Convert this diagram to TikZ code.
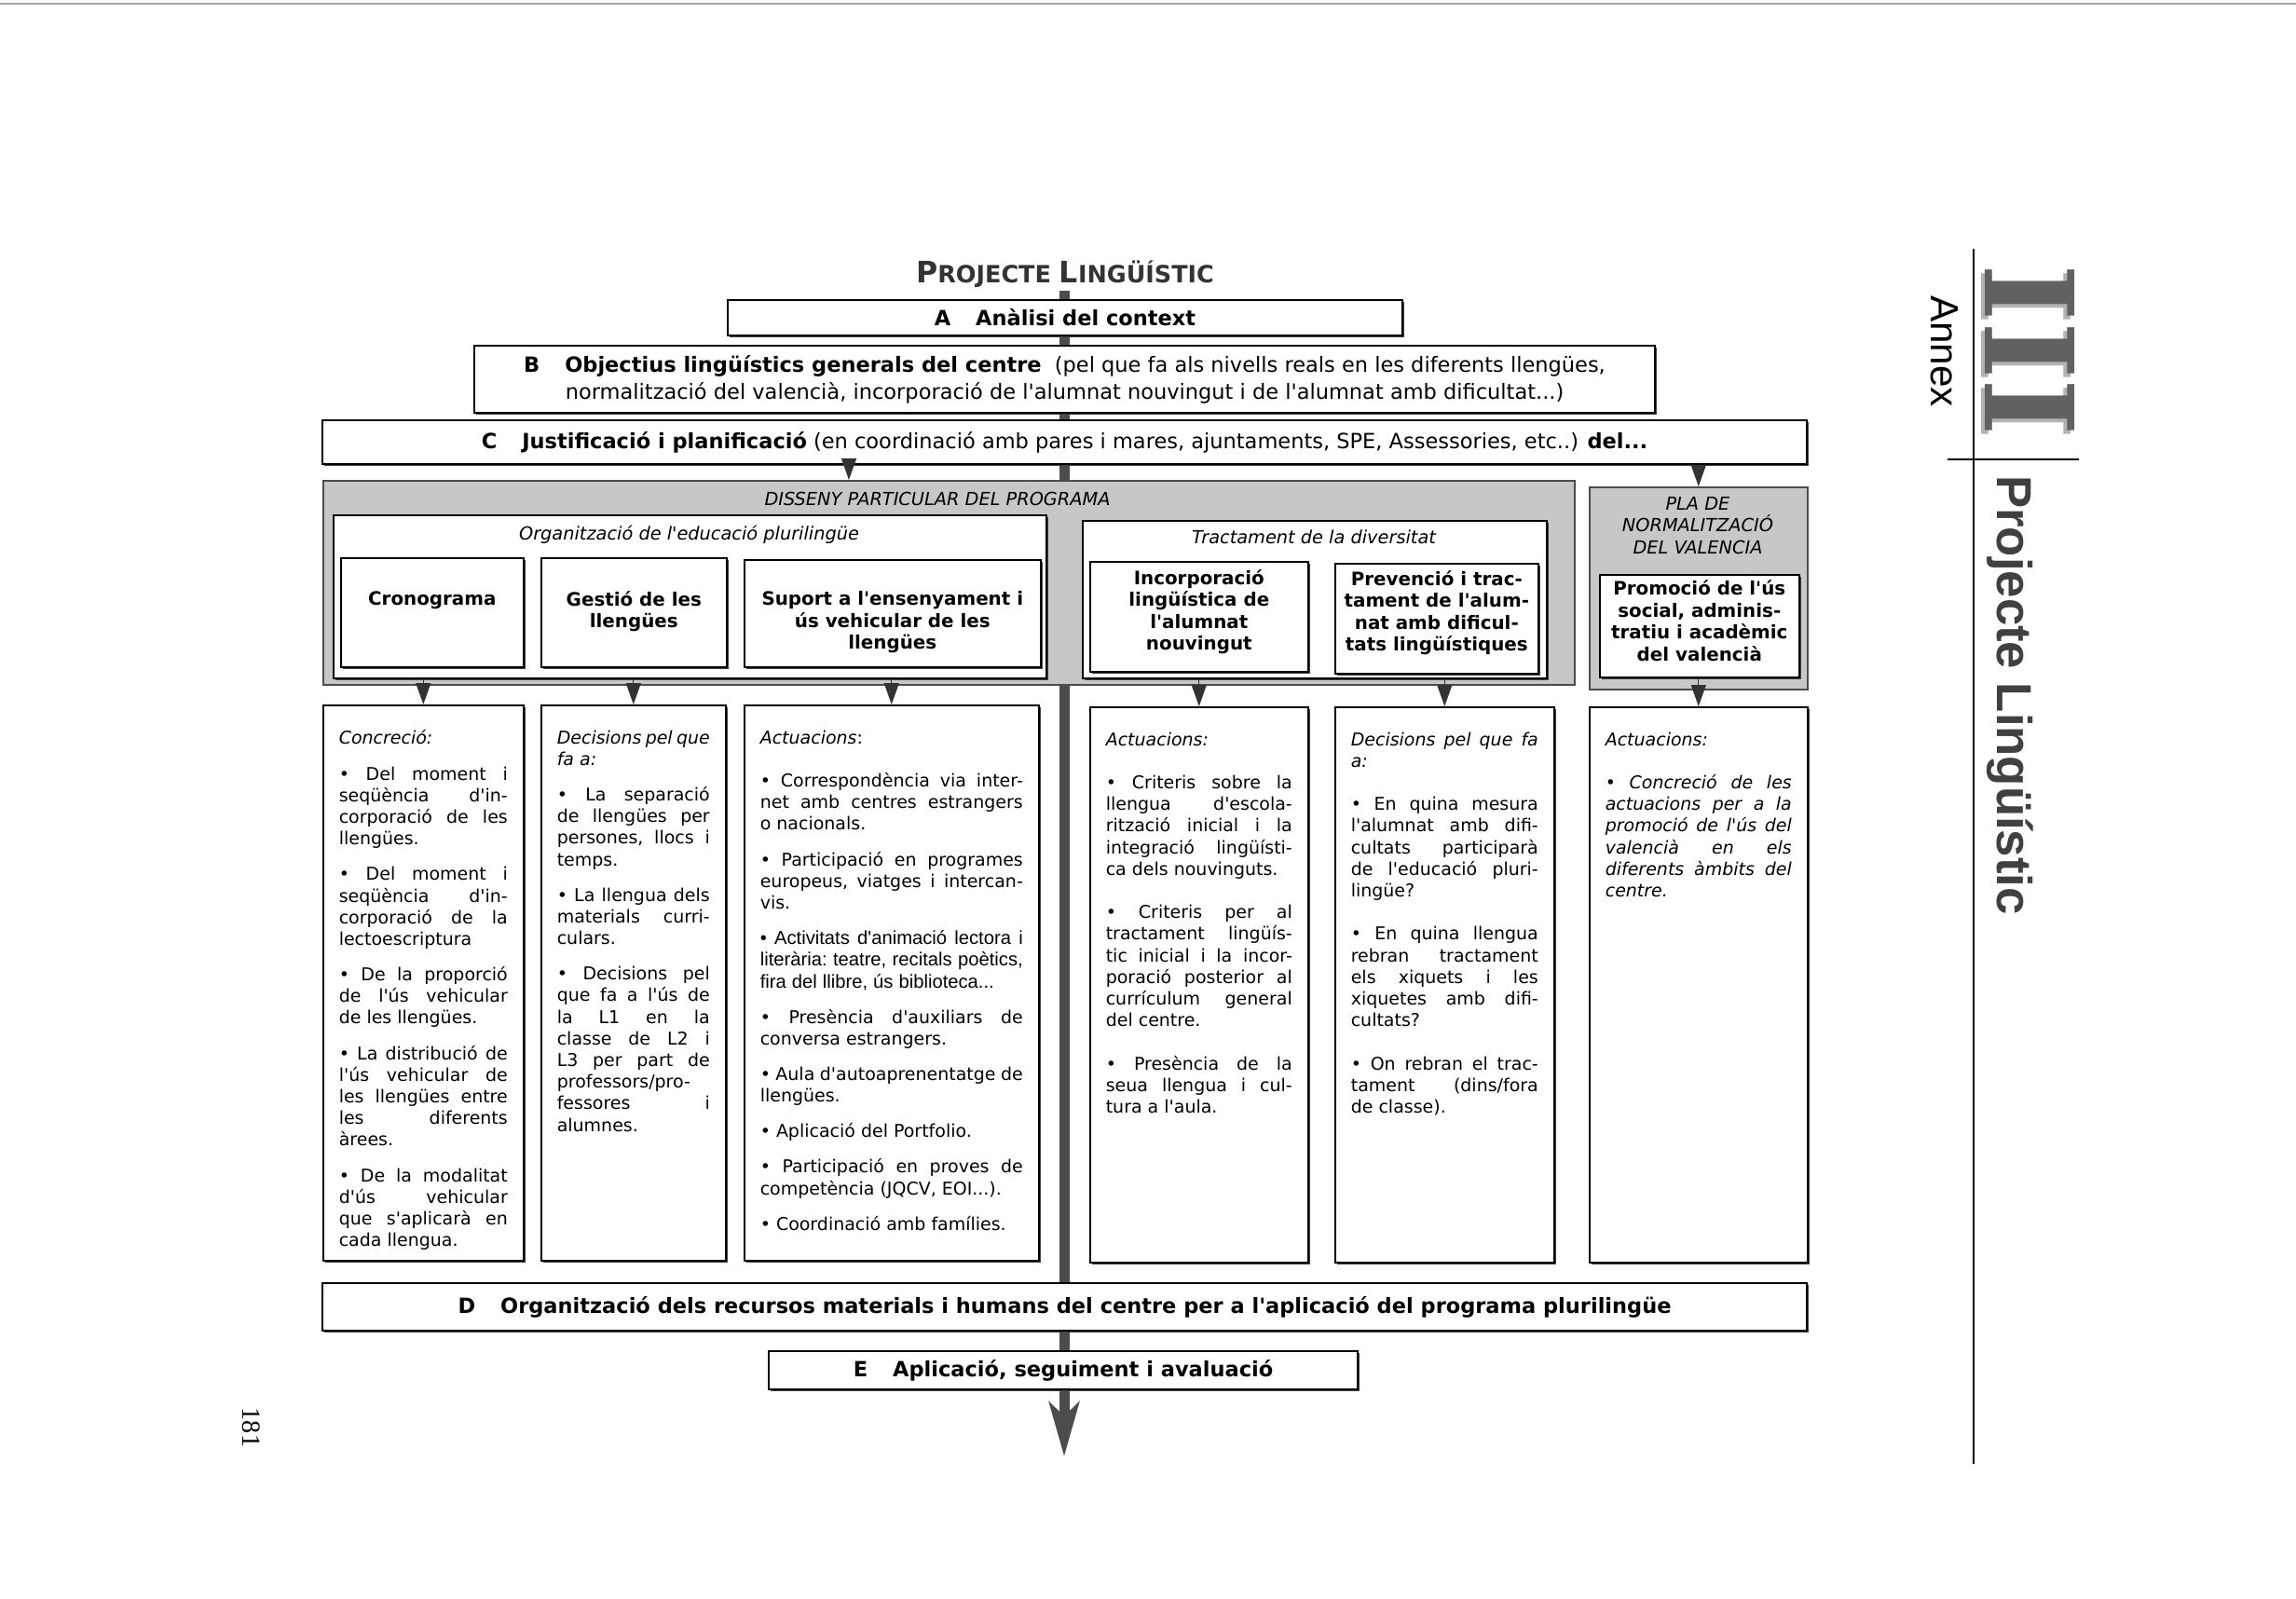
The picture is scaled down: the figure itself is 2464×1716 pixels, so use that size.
\documentclass[tikz,border=0pt]{standalone}
\usepackage{fontspec}
\setmainfont{DejaVu Sans}[Ligatures=TeXOff]
\newfontfamily\arialfont{Liberation Sans}[Ligatures=TeXOff]
\newfontfamily\slabfont{DejaVu Serif}
\newfontfamily\pagefont{Liberation Serif}
\usetikzlibrary{positioning,arrows.meta,shadows}

\newcommand{\headtext}[4]{\begin{minipage}[t][#2][t]{#1}\centering\vspace*{#3}#4\end{minipage}}
\newcommand{\coltext}[3]{\begin{minipage}[t][119.2mm][t]{#1}\fontsize{10.8}{13.2}\selectfont\frenchspacing
 \spaceskip=.318em plus .8em minus .15em\relax\tolerance=10000\hbadness=10000
 \hyphenpenalty=10000\exhyphenpenalty=10000\setlength{\parskip}{#2}\setlength{\parindent}{0pt}%
 \vspace*{5.4mm}#3\end{minipage}}

\begin{document}
\begin{tikzpicture}[x=0.2mm,y=-0.2mm,
 plainbox/.style={draw,line width=.9pt,fill=white,drop shadow={shadow xshift=.4mm,shadow yshift=-.4mm,fill=black!75,opacity=1}},
 stagebox/.style={plainbox,font=\fontsize{12.8}{16.5}\selectfont},
 boldstage/.style={plainbox,font=\bfseries\fontsize{12.8}{16.5}\selectfont},
 headbox/.style={plainbox,inner sep=0pt,anchor=north west,font=\bfseries\fontsize{11.3}{13.4}\selectfont},
 colbox/.style={plainbox,inner xsep=3.4mm,inner ysep=0pt,anchor=north west},
 framebox/.style={plainbox,inner sep=0pt,anchor=north west},
 graybox/.style={draw=black!70,line width=.9pt,fill=black!22,anchor=north west,inner sep=0pt},
 smalltip/.style={draw=black!80,line width=.7pt,-{Triangle[length=4.6mm,width=3.2mm]}},
 mainbar/.style={draw=black!70,line width=2.2mm,-{Stealth[length=11.6mm,width=6.4mm,inset=3mm]}},
 lbl/.style={font=\itshape\fontsize{11}{13.2}\selectfont,inner sep=0pt}]
 \fill[white] (0,0) rectangle (2464,1716);
 \useasboundingbox (0,0) rectangle (2464,1716);
 \draw[black!35,line width=.4mm] (0,4) -- (2464,4);

 \coordinate (bartop) at (1142,312);
 \coordinate (barend) at (1142,1563);
 \draw[mainbar] (bartop) -- (barend);

 \node[anchor=base,text=black!80,font=\bfseries] (titol) at (1143,304) {{\fontsize{18}{20}\selectfont P}{\fontsize{14.5}{20}\selectfont ROJECTE }{\fontsize{18}{20}\selectfont L}{\fontsize{14.5}{20}\selectfont INGÜÍSTIC}};

 \node[boldstage,minimum width=144.8mm,minimum height=7.6mm] (A) at (1143,341) {A\hspace{1.2em}Anàlisi del context};
 \node[stagebox,minimum width=253.4mm,minimum height=14.4mm,align=center] (B) at (1142.5,407) {\textbf{B\hspace{1.2em}Objectius lingüístics generals del centre}\ \ (pel que fa als nivells reals en les diferents llengües,\\normalització del valencià, incorporació de l'alumnat nouvingut i de l'alumnat amb dificultat...)};
 \node[stagebox,minimum width=318.6mm,minimum height=9.4mm] (C) at (1142.5,474.5) {\textbf{C\hspace{1.2em}Justificació i planificació} (en coordinació amb pares i mares, ajuntaments, SPE, Assessories, etc..) \textbf{del...}};

 \node[graybox,minimum width=268.6mm,minimum height=43.8mm] (disseny) at (346,515) {};
 \node[graybox,minimum width=46.8mm,minimum height=43.4mm] (pla) at (1705,522) {};
 \node[lbl,anchor=base] (dissenylbl) at (1006,543) {DISSENY PARTICULAR DEL PROGRAMA};
 \node[lbl,align=center] (plalbl) at (1822,564) {PLA DE\\NORMALITZACIÓ\\DEL VALENCIA};

 \node[framebox,minimum width=153mm,minimum height=35mm] (org) at (357,552) {};
 \node[framebox,minimum width=99.6mm,minimum height=33.8mm] (tract) at (1161,558) {};
 \node[lbl,anchor=base] (orglbl) at (739.5,580) {Organització de l'educació plurilingüe};
 \node[lbl,anchor=base] (tractlbl) at (1410,584) {Tractament de la diversitat};

 \node[headbox] (crono) at (365,598) {\headtext{39.2mm}{23.4mm}{7.1mm}{Cronograma}};
 \node[headbox] (gestio) at (580,598) {\headtext{39.8mm}{23.4mm}{7.1mm}{Gestió de les\\llengües}};
 \node[headbox] (suport) at (798,600) {\headtext{63.6mm}{23mm}{6.8mm}{Suport a l'ensenyament i\\ús vehicular de les\\llengües}};
 \node[headbox] (incorp) at (1169,602) {\headtext{46.8mm}{23.6mm}{1.7mm}{Incorporació\\lingüística de\\l'alumnat\\nouvingut}};
 \node[headbox] (prevencio) at (1432,604) {\headtext{43.6mm}{23.6mm}{1.5mm}{Prevenció i trac-\\tament de l'alum-\\nat amb dificul-\\tats lingüístiques}};
 \node[headbox] (promocio) at (1716,616) {\headtext{42.8mm}{22mm}{1.2mm}{Promoció de l'ús\\social, adminis-\\tratiu i acadèmic\\del valencià}};

 \node[colbox] (concrecio) at (346,756) {\coltext{36.2mm}{8.5pt}{\textit{Concreció:}\par
 • Del moment i\linebreak seqüència d'in-\linebreak corporació de les\linebreak llengües.\par
 • Del moment i\linebreak seqüència d'in-\linebreak corporació de la\linebreak lectoescriptura\par
 • De la proporció\linebreak de l'ús vehicular\linebreak de les llengües.\par
 • La distribució de\linebreak l'ús vehicular de\linebreak les llengües entre\linebreak les diferents\linebreak àrees.\par
 • De la modalitat\linebreak d'ús vehicular\linebreak que s'aplicarà en\linebreak cada llengua.}};
 \node[colbox] (decisions) at (580,756) {\coltext{32.8mm}{8.5pt}{\textit{Decisions pel que\linebreak fa a:}\par
 • La separació\linebreak de llengües per\linebreak persones, llocs i\linebreak temps.\par
 • La llengua dels\linebreak materials curri-\linebreak culars.\par
 • Decisions pel\linebreak que fa a l'ús de\linebreak la L1 en la\linebreak classe de L2 i\linebreak L3 per part de\linebreak professors/pro-\linebreak fessores i\linebreak alumnes.}};
 \node[colbox] (actuacions) at (798,756) {\coltext{56.4mm}{8.5pt}{\textit{Actuacions}:\par\vspace{4.7pt}
 • Correspondència via inter-\linebreak net amb centres estrangers\linebreak o nacionals.\par
 • Participació en programes\linebreak europeus, viatges i intercan-\linebreak vis.\par
 {\arialfont\fontsize{11.5}{13.2}\selectfont • Activitats d'animació lectora i\linebreak literària: teatre, recitals poètics,\linebreak fira del llibre, ús biblioteca...\par}
 • Presència d'auxiliars de\linebreak conversa estrangers.\par
 • Aula d'autoaprenentatge de\linebreak llengües.\par
 • Aplicació del Portfolio.\par
 • Participació en proves de\linebreak competència (JQCV, EOI...).\par
 • Coordinació amb famílies.}};
 \node[colbox] (actuacionsb) at (1169,758) {\coltext{40mm}{13.2pt}{\textit{Actuacions:}\par
 • Criteris sobre la\linebreak llengua d'escola-\linebreak rització inicial i la\linebreak integració lingüísti-\linebreak ca dels nouvinguts.\par
 • Criteris per al\linebreak tractament lingüís-\linebreak tic inicial i la incor-\linebreak poració posterior al\linebreak currículum general\linebreak del centre.\par
 • Presència de la\linebreak seua llengua i cul-\linebreak tura a l'aula.}};
 \node[colbox] (decisionsb) at (1432,758) {\coltext{40.2mm}{13.2pt}{\textit{Decisions pel que fa\linebreak a:}\par
 • En quina mesura\linebreak l'alumnat amb difi-\linebreak cultats participarà\linebreak de l'educació pluri-\linebreak lingüe?\par
 • En quina llengua\linebreak rebran tractament\linebreak els xiquets i les\linebreak xiquetes amb difi-\linebreak cultats?\par
 • On rebran el trac-\linebreak tament (dins/fora\linebreak de classe).}};
 \node[colbox] (actuacionsc) at (1705,758) {\coltext{40mm}{13.2pt}{\itshape Actuacions:\par
 • Concreció de les\linebreak actuacions per a la\linebreak promoció de l'ús del\linebreak valencià en els\linebreak diferents àmbits del\linebreak centre.}};

 \coordinate (cx) at (911,498);
 \draw[smalltip] (C.south -| cx) -- (disseny.north -| cx);
 \draw[smalltip] (C.south -| pla.north) -- (pla.north);
 \draw[smalltip] (org.south -| concrecio.north) -- (concrecio.north);
 \draw[smalltip] (org.south -| decisions.north) -- (decisions.north);
 \draw[smalltip] (org.south -| actuacions.north) -- (actuacions.north);
 \draw[smalltip] (tract.south -| actuacionsb.north) -- (actuacionsb.north);
 \draw[smalltip] (tract.south -| decisionsb.north) -- (decisionsb.north);
 \draw[smalltip] (promocio.south -| actuacionsc.north) -- (actuacionsc.north);

 \node[boldstage,minimum width=318.6mm,minimum height=10.2mm] (D) at (1142.5,1402.5) {D\hspace{1.2em}Organització dels recursos materials i humans del centre per a l'aplicació del programa plurilingüe};
 \node[boldstage,minimum width=126.4mm,minimum height=8.2mm] (E) at (1141,1470.5) {E\hspace{1.2em}Aplicació, seguiment i avaluació};

 \draw[line width=.45mm] (2118,267) -- (2118,1571);
 \draw[line width=.45mm] (2090,493) -- (2231,493);
 \node[rotate=-90,font=\arialfont\fontsize{24}{24}\selectfont] (annex) at (2087,377) {Annex};
 \node[rotate=-90,text=black!30,font=\slabfont\bfseries\fontsize{75}{75}\selectfont] (romanb) at (2175,380) {III};
 \node[rotate=-90,text=black!62,font=\slabfont\bfseries\fontsize{75}{75}\selectfont] (roman) at (2179,376) {III};
 \node[rotate=-90,text=black!75,font=\arialfont\bfseries\fontsize{30}{30}\selectfont] (titolb) at (2157,746) {Projecte Lingüístic};
 \node[rotate=-90,font=\pagefont\fontsize{16}{16}\selectfont] (pagina) at (270,1532) {181};
\end{tikzpicture}
\end{document}
